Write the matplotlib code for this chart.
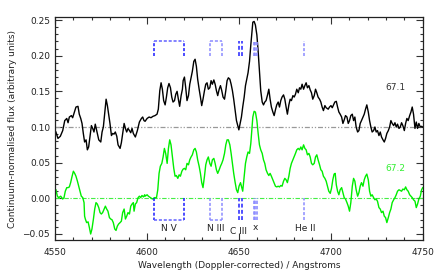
import numpy as np
import matplotlib
matplotlib.use("Agg")
from matplotlib import pyplot as plt
from matplotlib.ticker import MultipleLocator

# spectrum 67.1 (black, offset by +0.10)
wave_a = [4550.5, 4551.6, 4552.9, 4554.2, 4555.3, 4556.4, 4557.1, 4557.8, 4558.9, 4559.6,
          4560.3, 4561.4, 4562.5, 4563.2, 4564.0, 4564.7, 4565.4, 4566.1, 4566.9, 4567.6,
          4568.3, 4569.0, 4569.8, 4570.5, 4571.2, 4571.9, 4572.7, 4573.8, 4574.9, 4575.6,
          4576.3, 4577.0, 4577.8, 4578.5, 4579.2, 4579.9, 4580.7, 4581.4, 4582.1, 4582.8,
          4583.6, 4584.3, 4585.4, 4586.1, 4586.8, 4587.6, 4588.3, 4589.0, 4589.7, 4590.5,
          4591.2, 4591.9, 4592.6, 4593.7, 4594.8, 4595.9, 4597.0, 4597.7, 4598.4,
          4599.0, 4600.1, 4601.2, 4602.2, 4603.3, 4604.4, 4605.5, 4606.2, 4607.0, 4607.7,
          4608.4, 4609.1, 4609.9, 4610.6, 4611.3, 4612.0, 4612.8, 4613.5, 4614.2, 4615.0,
          4615.7, 4616.4, 4617.1, 4617.8, 4618.6, 4619.3, 4619.7, 4620.4, 4621.1, 4621.8,
          4622.6, 4623.3, 4624.0, 4624.7, 4625.5, 4626.2, 4626.9, 4627.6, 4628.4, 4629.1,
          4629.8, 4630.5, 4631.3, 4632.0, 4632.7, 4633.4, 4634.2, 4634.9, 4635.6, 4636.4,
          4637.1, 4637.8, 4638.5, 4639.3, 4640.0, 4640.7, 4641.4, 4642.2, 4642.9, 4643.6,
          4644.3, 4645.1, 4645.8, 4646.5, 4647.2, 4648.0, 4648.7, 4649.4, 4650.0,
          4650.7, 4651.4, 4652.1, 4652.9, 4653.6, 4654.3, 4655.0, 4655.8, 4656.5, 4657.2,
          4657.6, 4658.3, 4659.0, 4659.8, 4660.5, 4661.2, 4661.9, 4662.7, 4663.4, 4664.1,
          4664.8, 4665.6, 4666.3, 4667.0, 4667.7, 4668.5, 4669.2, 4669.9, 4670.6, 4671.4,
          4672.1, 4672.8, 4673.5, 4674.3, 4675.0, 4675.7, 4676.4, 4677.2, 4677.9, 4678.6,
          4679.4, 4680.1, 4680.8, 4681.5, 4682.3, 4683.0, 4683.7, 4684.4, 4685.2, 4685.9,
          4686.6, 4687.3, 4688.1, 4688.8, 4689.5, 4690.2, 4691.0, 4691.7, 4692.4, 4693.1,
          4693.9, 4694.6, 4695.3, 4696.0, 4696.8, 4697.5,
          4698.6, 4699.3, 4700.1, 4700.8, 4701.5, 4702.2, 4703.0, 4703.7, 4704.4, 4705.1,
          4705.9, 4706.6, 4707.3, 4708.0, 4708.8, 4709.5, 4710.2, 4710.9, 4711.7, 4712.4,
          4713.1, 4713.8, 4714.6, 4715.3, 4716.0, 4716.7, 4717.5, 4718.2, 4718.9, 4719.6,
          4720.4, 4721.1, 4721.8, 4722.5, 4723.3, 4724.0, 4724.7, 4725.4, 4726.2, 4726.9,
          4727.6, 4728.4, 4729.1, 4729.8, 4730.5, 4731.3, 4732.0, 4732.7, 4733.4, 4734.2,
          4734.9, 4735.6, 4736.3, 4737.1, 4737.8, 4738.5, 4739.2, 4740.0, 4740.7, 4741.4,
          4742.1, 4742.9, 4743.6, 4744.3, 4745.0, 4745.8, 4746.5, 4747.2, 4747.9, 4748.7,
          4749.4, 4750.0]
flux_a = [0.093, 0.084, 0.087, 0.095, 0.109, 0.112, 0.106, 0.114, 0.116, 0.113,
          0.119, 0.128, 0.129, 0.118, 0.112, 0.105, 0.091, 0.079, 0.082, 0.068,
          0.072, 0.086, 0.102, 0.098, 0.093, 0.104, 0.095, 0.082, 0.079, 0.093,
          0.100, 0.118, 0.139, 0.130, 0.118, 0.105, 0.088, 0.091, 0.090, 0.093,
          0.087, 0.075, 0.070, 0.078, 0.091, 0.105, 0.098, 0.093, 0.098, 0.095,
          0.092, 0.098, 0.091, 0.086, 0.095, 0.107, 0.112, 0.114, 0.109,
          0.108, 0.112, 0.114, 0.113, 0.115, 0.116, 0.118, 0.125, 0.151, 0.162,
          0.153, 0.137, 0.131, 0.142, 0.155, 0.161, 0.155, 0.142, 0.135, 0.137,
          0.146, 0.150, 0.139, 0.129, 0.144, 0.153, 0.165, 0.170, 0.155, 0.137,
          0.144, 0.160, 0.169, 0.178, 0.192, 0.195, 0.185, 0.167, 0.153, 0.142,
          0.130, 0.139, 0.151, 0.160, 0.162, 0.153, 0.155, 0.165, 0.160, 0.166,
          0.160, 0.151, 0.144, 0.153, 0.158, 0.151, 0.142, 0.139, 0.151, 0.165,
          0.169, 0.167, 0.160, 0.151, 0.139, 0.123, 0.109, 0.102, 0.096,
          0.105, 0.114, 0.128, 0.142, 0.158, 0.167, 0.176, 0.192, 0.215, 0.236,
          0.247, 0.248, 0.243, 0.229, 0.206, 0.178, 0.151, 0.135, 0.131, 0.135,
          0.137, 0.145, 0.153, 0.139, 0.128, 0.121, 0.116, 0.124, 0.131, 0.135,
          0.128, 0.137, 0.142, 0.145, 0.139, 0.128, 0.118, 0.131, 0.139, 0.137,
          0.144, 0.142, 0.146, 0.153, 0.148, 0.155, 0.153, 0.160, 0.153, 0.158,
          0.162, 0.155, 0.158, 0.152, 0.148, 0.139, 0.144, 0.153, 0.148, 0.142,
          0.139, 0.135, 0.128, 0.123, 0.130, 0.127,
          0.125, 0.128, 0.130, 0.127, 0.131, 0.135, 0.136, 0.128, 0.121, 0.118,
          0.114, 0.105, 0.110, 0.116, 0.114, 0.105, 0.109, 0.116, 0.118, 0.109,
          0.114, 0.100, 0.093, 0.095, 0.105, 0.109, 0.114, 0.118, 0.125, 0.131,
          0.121, 0.109, 0.100, 0.093, 0.095, 0.100, 0.093, 0.095, 0.088, 0.093,
          0.086, 0.082, 0.079, 0.084, 0.091, 0.095, 0.100, 0.109, 0.105, 0.102,
          0.106, 0.100, 0.104, 0.098, 0.100, 0.106, 0.102, 0.095, 0.105, 0.112,
          0.109, 0.116, 0.121, 0.128, 0.118, 0.098, 0.107, 0.098, 0.105, 0.100,
          0.101, 0.100]

# spectrum 67.2 (green, no offset)
wave_b = [4550.5, 4551.3, 4552.0, 4553.1, 4554.2, 4554.9, 4555.6, 4556.4, 4557.1, 4557.8,
          4558.5, 4559.3, 4560.0, 4560.7, 4561.4, 4562.2, 4562.9, 4563.6, 4564.3, 4565.1,
          4565.8, 4566.1, 4566.5, 4567.2, 4568.0, 4568.7, 4569.4, 4570.1, 4570.9, 4571.6,
          4572.3, 4573.0, 4573.8, 4574.5, 4575.2, 4575.9, 4576.7, 4577.4, 4578.1, 4578.8,
          4579.6, 4580.3, 4581.0, 4581.7, 4582.5, 4583.2, 4583.9, 4584.6, 4585.4, 4586.1,
          4586.8, 4587.6, 4588.3, 4589.0, 4589.7, 4590.5, 4591.2, 4591.9, 4592.6, 4593.0,
          4593.7, 4594.4, 4595.2, 4595.9, 4596.6, 4597.3, 4598.1, 4598.8,
          4599.0, 4600.1, 4600.8, 4601.9, 4603.0, 4604.1, 4605.2, 4605.9, 4606.6, 4607.3,
          4608.1, 4608.8, 4609.5, 4610.2, 4611.0, 4611.7, 4612.4, 4613.1, 4613.9, 4614.6,
          4615.3, 4616.0, 4616.8, 4617.5, 4618.2, 4619.0, 4619.7, 4620.4, 4621.1, 4621.8,
          4622.6, 4623.3, 4624.0, 4624.7, 4625.5, 4626.2, 4626.9, 4627.6, 4628.4, 4629.1,
          4629.8, 4630.5, 4631.3, 4632.0, 4632.7, 4633.4, 4634.2, 4634.9, 4635.6, 4636.4,
          4637.1, 4637.8, 4638.5, 4639.3, 4640.0, 4640.7, 4641.4, 4642.2, 4642.9, 4643.6,
          4644.3, 4645.1, 4645.8, 4646.5, 4647.2, 4648.0, 4648.7, 4649.4, 4650.1, 4650.9,
          4651.6,
          4652.1, 4652.9, 4653.6, 4654.3, 4655.0, 4655.8, 4656.5, 4656.9, 4657.6, 4658.3,
          4659.0, 4659.8, 4660.5, 4661.2, 4661.9, 4662.7, 4663.4, 4664.1, 4664.8, 4665.6,
          4666.3, 4667.0, 4667.7, 4668.5, 4669.2, 4669.9, 4670.6, 4671.4, 4672.1, 4672.8,
          4673.5, 4674.3, 4675.0, 4675.7, 4676.4, 4677.2, 4677.9, 4678.6, 4679.4, 4680.1,
          4680.8, 4681.5, 4682.3, 4683.0, 4683.7, 4684.4, 4685.2, 4685.9, 4686.6, 4687.3,
          4688.1, 4688.8, 4689.5, 4690.2, 4691.0, 4691.7, 4692.4, 4693.1, 4693.9, 4694.6,
          4695.3, 4696.0, 4696.8, 4697.5, 4698.2, 4698.9, 4699.7, 4700.4, 4701.1, 4701.8,
          4702.4, 4703.0,
          4703.7, 4704.4, 4705.1, 4705.9, 4706.6, 4707.3, 4708.0, 4708.8, 4709.5, 4710.2,
          4710.9, 4711.7, 4712.4, 4713.1, 4713.8, 4714.6, 4715.3, 4716.0, 4716.7, 4717.5,
          4718.2, 4718.9, 4719.6, 4720.4, 4721.1, 4721.8, 4722.5, 4723.3, 4724.0, 4724.7,
          4725.4, 4726.2, 4726.9, 4727.6, 4728.4, 4729.1, 4729.8, 4730.5, 4731.3, 4732.0,
          4732.7, 4733.4, 4734.2, 4734.9, 4735.6, 4736.3, 4737.1, 4737.8, 4738.5, 4739.2,
          4740.0, 4740.7, 4741.4, 4742.1, 4742.9, 4743.6, 4744.3, 4745.0, 4745.8, 4746.5,
          4747.2, 4747.9, 4748.7, 4749.4, 4750.0]
flux_b = [0.012, 0.003, 0.001, 0.003, -0.001, 0.001, 0.010, 0.015, 0.015, 0.016,
          0.022, 0.031, 0.038, 0.035, 0.031, 0.024, 0.017, 0.010, 0.003, 0.001,
          -0.006, -0.025, -0.029, -0.034, -0.033, -0.041, -0.050, -0.043, -0.029, -0.015,
          -0.006, -0.008, -0.013, -0.020, -0.022, -0.020, -0.015, -0.011, -0.015, -0.018,
          -0.027, -0.029, -0.030, -0.034, -0.043, -0.045, -0.039, -0.036, -0.034, -0.032,
          -0.020, -0.015, -0.029, -0.025, -0.020, -0.022, -0.011, -0.008, -0.006, -0.018,
          -0.008, -0.006, 0.001, 0.003, 0.001, 0.004, 0.002, 0.005,
          0.003, 0.005, 0.003, 0.001, -0.001, 0.001, 0.001, 0.012, 0.035, 0.045,
          0.049, 0.058, 0.070, 0.063, 0.049, 0.070, 0.082, 0.075, 0.058, 0.042,
          0.031, 0.032, 0.028, 0.033, 0.031, 0.038, 0.041, 0.042, 0.040, 0.049,
          0.047, 0.054, 0.058, 0.061, 0.068, 0.070, 0.065, 0.054, 0.045, 0.035,
          0.022, 0.015, 0.031, 0.047, 0.054, 0.058, 0.049, 0.045, 0.054, 0.056,
          0.049, 0.040, 0.035, 0.040, 0.045, 0.049, 0.054, 0.063, 0.075, 0.082,
          0.082, 0.075, 0.063, 0.049, 0.035, 0.022, 0.012, 0.008, 0.017, 0.022,
          0.015,
          0.010, 0.031, 0.049, 0.058, 0.065, 0.063, 0.077, 0.091, 0.114, 0.122,
          0.121, 0.109, 0.091, 0.075, 0.068, 0.063, 0.054, 0.049, 0.040, 0.035,
          0.032, 0.035, 0.031, 0.026, 0.022, 0.017, 0.016, 0.017, 0.016, 0.018,
          0.017, 0.024, 0.028, 0.026, 0.022, 0.031, 0.042, 0.049, 0.054, 0.058,
          0.063, 0.068, 0.070, 0.068, 0.072, 0.068, 0.075, 0.070, 0.068, 0.061,
          0.063, 0.058, 0.049, 0.047, 0.049, 0.058, 0.061, 0.054, 0.047, 0.040,
          0.038, 0.031, 0.028, 0.024, 0.017, 0.010, 0.007, 0.014, 0.026, 0.034,
          0.035, 0.019,
          0.010, 0.005, 0.012, 0.015, 0.008, 0.001, -0.001, -0.006, -0.011, -0.018,
          -0.006, 0.017, 0.028, 0.024, 0.012, 0.003, 0.008, 0.017, 0.022, 0.017,
          0.026, 0.031, 0.034, 0.026, 0.010, 0.003, 0.005, 0.001, -0.002, -0.001,
          -0.004, -0.013, -0.015, -0.020, -0.018, -0.025, -0.027, -0.034, -0.027, -0.020,
          -0.015, -0.006, -0.002, 0.001, 0.005, 0.010, 0.012, 0.011, 0.010, 0.013,
          0.012, 0.016, 0.012, 0.010, 0.005, 0.003, 0.001, -0.002, -0.004, -0.013,
          -0.008, -0.001, 0.003, 0.012, 0.015]

# line identifications (Angstroms)
nv_lines = [4603.9, 4620.1]
niii_lines = [4634.1, 4640.8]
ciii_lines = [4650.3, 4651.5]
x_lines = [4658.1, 4659.0, 4659.9]
heii_lines = [4685.7]

fs = 6.5
plt.rcParams['font.family'] = 'DejaVu Sans'
fig = plt.figure(figsize=(4.4, 2.76), dpi=100)
ax = fig.add_axes([0.125, 0.1315, 0.8357, 0.8058])

ax.axhline(0.10, color='#999999', lw=0.9, ls=(0, (4, 1.5, 1, 1.5, 1, 1.5)))
ax.axhline(0.00, color='#44ee44', lw=0.8, ls=(0, (4, 1.5, 1, 1.5)))

ax.plot(wave_a, flux_a, color='black', lw=1.0)
ax.plot(wave_b, flux_b, color='#00ee00', lw=1.0)

dark = '#1a1aff'
light = '#8c8cff'
mid = '#5050ff'
dash = (0, (2, 1.2))


def bracket(lines, top, bot, color_v, color_h):
    lo, hi = lines
    ax.plot([lo, lo], [bot, top], color=color_v, lw=1.1, ls=dash)
    ax.plot([hi, hi], [bot, top], color=color_v, lw=1.1, ls=dash)
    ax.plot([lo, hi], [top, top], color=color_h, lw=1.1, ls=dash)


for top, bot in [(0.22, 0.20), (-0.03, 0.0)]:
    bracket(nv_lines, top, bot, dark, '#6060ff')
    bracket(niii_lines, top, bot, light, light)
    lo_y, hi_y = min(top, bot), max(top, bot)
    for w in ciii_lines:
        ax.plot([w, w], [lo_y, hi_y], color=mid, lw=1.4, ls=dash)
    for w in x_lines:
        ax.plot([w, w], [lo_y, hi_y], color=light, lw=1.2, ls=dash)
    for w in heii_lines:
        ax.plot([w, w], [lo_y, hi_y], color=light, lw=1.1, ls=dash)

ax.text(4612, -0.042, "N V", fontsize=fs, ha='center', va='center', color='#222222')
ax.text(4637.3, -0.042, "N III", fontsize=fs, ha='center', va='center', color='#222222')
ax.text(4649.6, -0.047, "C III", fontsize=fs, ha='center', va='center', color='#222222')
ax.text(4658.8, -0.041, "x", fontsize=fs, ha='center', va='center', color='#222222')
ax.text(4686.3, -0.042, "He II", fontsize=fs, ha='center', va='center', color='#222222')
ax.text(4735.3, 0.155, "67.1", fontsize=fs, ha='center', va='center', color='#333333')
ax.text(4735.3, 0.0425, "67.2", fontsize=fs, ha='center', va='center', color='#33ee33')

ax.set_xlim(4550, 4750)
ax.set_ylim(-0.058, 0.2538)
ax.xaxis.set_major_locator(MultipleLocator(50))
ax.xaxis.set_minor_locator(MultipleLocator(10))
ax.yaxis.set_major_locator(MultipleLocator(0.05))
ax.yaxis.set_minor_locator(MultipleLocator(0.01))
ax.yaxis.set_major_formatter(plt.FuncFormatter(lambda v, p: f"{v:.2f}".replace("-", "\u2212")))
ax.tick_params(which='both', direction='in', top=True, right=True, labelsize=fs,
               colors='#333333', labelcolor='#222222')
ax.tick_params(which='major', length=5, width=0.8)
ax.tick_params(which='minor', length=2.5, width=0.8)
ax.tick_params(axis='x', which='major', pad=6)
for sp in ax.spines.values():
    sp.set_linewidth(0.9)
    sp.set_color('#222222')

ax.set_xlabel("Wavelength (Doppler-corrected) / Angstroms", fontsize=fs, color='#222222', labelpad=3)
ax.set_ylabel("Continuum-normalised flux (arbitrary units)", fontsize=fs, color='#222222', labelpad=4)

fig.savefig("out.png", dpi=100)
